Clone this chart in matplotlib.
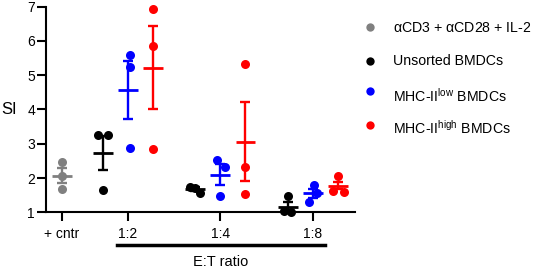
import matplotlib
matplotlib.use("Agg")
import matplotlib.pyplot as plt
from matplotlib.lines import Line2D
import numpy as np

plt.rcParams['font.family'] = ['Liberation Sans', 'DejaVu Sans']
plt.rcParams['mathtext.fontset'] = 'custom'
plt.rcParams['mathtext.rm'] = 'Liberation Sans'

# ---- data ----
tick_labels = ["+ cntr", "1:2", "1:4", "1:8"]
series_names = [r"$\mathregular{\alpha}$CD3 + $\mathregular{\alpha}$CD28 + IL-2",
                "Unsorted BMDCs",
                r"MHC-II$^{\mathregular{low}}$ BMDCs",
                r"MHC-II$^{\mathregular{high}}$ BMDCs"]
colors = ["#808080", "#000000", "#0000ff", "#ff0000"]

# control (alphaCD3 + alphaCD28 + IL-2)
ctrl_pts = [2.46, 2.07, 1.68]
ctrl_mean = 2.07
ctrl_sem = 0.21

# per E:T ratio (1:2, 1:4, 1:8)
unsorted_pts = [[3.25, 3.25, 1.65], [1.75, 1.72, 1.56], [1.48, 1.03, 1.0]]
unsorted_mean = [2.72, 1.68, 1.16]
unsorted_sem = [0.50, 0.06, 0.15]

low_pts = [[5.59, 5.23, 2.88], [2.53, 2.33, 1.48], [1.80, 1.55, 1.31]]
low_mean = [4.57, 2.10, 1.55]
low_sem = [0.84, 0.31, 0.12]

high_pts = [[6.93, 5.86, 2.85], [5.32, 2.32, 1.53], [2.05, 1.62, 1.60]]
high_mean = [5.22, 3.06, 1.78]
high_sem = [1.22, 1.16, 0.10]

# ---- layout ----
W, H = 536, 270
fig = plt.figure(figsize=(W / 100, H / 100), dpi=100)
ax = fig.add_axes([46 / W, 1 - 212.3 / H, (355 - 46) / W, (212.3 - 6.5) / H])

group_x = [0.0, 1.0, 2.4, 3.8]
offset = 0.38
jit = {
    "ctrl": [0, 0, 0],
    "uns": [[-0.07, 0.07, 0.0], [-0.08, 0.0, 0.07], [0.0, -0.05, 0.05]],
    "low": [[0.03, 0.03, 0.03], [-0.05, 0.07, 0.0], [0.02, 0.06, -0.06]],
    "high": [[0.0, 0.0, 0.0], [0.0, 0.0, 0.0], [0.0, -0.08, 0.09]],
}
ms = 6.5
mean_hw = 0.15
cap = 3.3


def draw(x, pts, jitter, mean, sem, c):
    xs = [x + j for j in jitter]
    ax.plot(xs, pts, 'o', color=c, ms=ms, mec='none', clip_on=False, zorder=3)
    ax.hlines(mean, x - mean_hw, x + mean_hw, color=c, lw=2, zorder=4)
    ax.errorbar([x], [mean], yerr=[sem], color=c, lw=1.7, capsize=cap,
                capthick=1.7, fmt='none', zorder=4)


draw(group_x[0], ctrl_pts, jit["ctrl"], ctrl_mean, ctrl_sem, colors[0])
for i in range(3):
    gx = group_x[i + 1]
    draw(gx - offset, unsorted_pts[i], jit["uns"][i], unsorted_mean[i], unsorted_sem[i], colors[1])
    draw(gx, low_pts[i], jit["low"][i], low_mean[i], low_sem[i], colors[2])
    draw(gx + offset, high_pts[i], jit["high"][i], high_mean[i], high_sem[i], colors[3])

ax.set_xlim(-0.242, 4.44)
ax.set_ylim(1, 7)
ax.set_yticks(range(1, 8))
ax.set_xticks(group_x)
ax.set_xticklabels(tick_labels)
for s in ["top", "right"]:
    ax.spines[s].set_visible(False)
for s in ["left", "bottom"]:
    ax.spines[s].set_linewidth(1.5)
ax.tick_params(axis='both', width=1.5, length=6.5, labelsize=10)
ax.tick_params(axis='y', pad=1.5)
ax.tick_params(axis='x', pad=4)
fig.text(9.5 / W, 1 - 109.5 / H, "SI", ha='center', va='center', fontsize=12)

# E:T ratio bracket
fig.add_artist(Line2D([117 / W, 325 / W], [1 - 245 / H, 1 - 245 / H], color='black', lw=2.5))
fig.text(221 / W, 1 - 262 / H, "E:T ratio", ha='center', va='center', fontsize=10.5)

# legend
leg_y = [26.7, 60.5, 91, 125]
txt_y = [28, 61, 96, 128]
for c, name, my, ty in zip(colors, series_names, leg_y, txt_y):
    fig.add_artist(Line2D([370 / W], [1 - my / H], marker='o', color=c, ms=6, mec='none', ls='none'))
    fig.text(393 / W, 1 - ty / H, name, ha='left', va='center', fontsize=10.2)

fig.savefig("out.png", dpi=100)
